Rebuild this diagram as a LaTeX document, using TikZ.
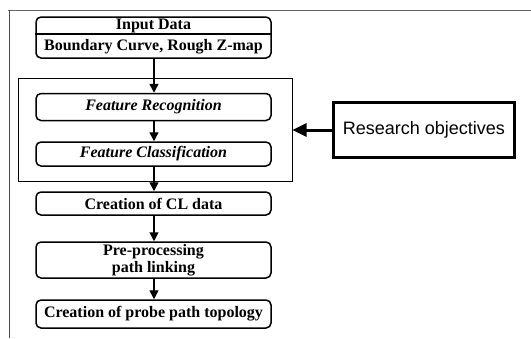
\documentclass[tikz,border=0pt]{standalone}
\usepackage{fontspec}
\setmainfont{Liberation Serif}
\newfontfamily\rsans{Liberation Sans}
\usetikzlibrary{arrows.meta}
\begin{document}
\begin{tikzpicture}[x=1pt,y=-1pt,
  box/.style={draw, line width=1.5pt, rounded corners=5pt, inner sep=0pt, minimum width=235pt, align=center, font=\fontsize{16}{17}\selectfont\bfseries},
  itbox/.style={box, font=\fontsize{16}{17}\selectfont\bfseries\itshape},
  flow/.style={line width=1.4pt, -{Triangle[length=9pt,width=9pt]}},
  txt/.style={inner sep=0pt, font=\fontsize{16}{17}\selectfont\bfseries}]
\useasboundingbox (0,0) rectangle (531,338);
% outer frame lines
\coordinate (fa) at (8,10);
\coordinate (fb) at (531,10);
\coordinate (fc) at (9,338);
\draw[line width=0.8pt, black!60] (fb) -- (fa);
\draw[line width=0.8pt, black!70] (9,10) -- (fc);
% input box
\node[box, minimum height=41pt] (input) at (153.5,37.5) {};
\node[txt] (inA) at (153.5,25.5) {Input Data};
\node[txt] (inB) at (153.5,46.5) {Boundary Curve, Rough Z-map};
\draw[line width=1.2pt] (input.west |- 0,34) -- (input.east |- 0,34);
% research objectives frame
\node[draw, line width=1pt, minimum width=274pt, minimum height=103pt, inner sep=0pt] (group) at (155,129.5) {};
\node[itbox, minimum height=27pt] (fr) at (153.5,107) {Feature Recognition};
\node[itbox, minimum height=24pt] (fc) at (153.5,154) {Feature Classification};
\node[box, minimum height=23pt] (cl) at (153.5,203.5) {Creation of CL data};
\node[box, minimum height=36pt, font=\fontsize{16}{17}\selectfont\bfseries] (pp) at (153.5,260) {Pre-processing\\path linking};
\node[box, minimum height=28pt] (probe) at (153.5,314) {Creation of probe path topology};
\node[draw, line width=3pt, minimum width=181pt, minimum height=55pt, inner sep=0pt, font=\rsans\fontsize{18}{20}\selectfont] (ro) at (424,130) {Research objectives};
% connectors
\draw[flow] (input.south -| 154,0) -- (fr.north -| 154,0);
\draw[flow] (fr.south -| 154,0) -- (fc.north -| 154,0);
\draw[flow] (fc.south -| 154,0) -- (cl.north -| 154,0);
\draw[flow] (cl.south -| 154,0) -- (pp.north -| 154,0);
\draw[flow] (pp.south -| 154,0) -- (probe.north -| 154,0);
\draw[line width=3pt, -{Triangle[length=14pt,width=13pt]}] (ro.west) -- (group.east |- ro.west);
\end{tikzpicture}
\end{document}
